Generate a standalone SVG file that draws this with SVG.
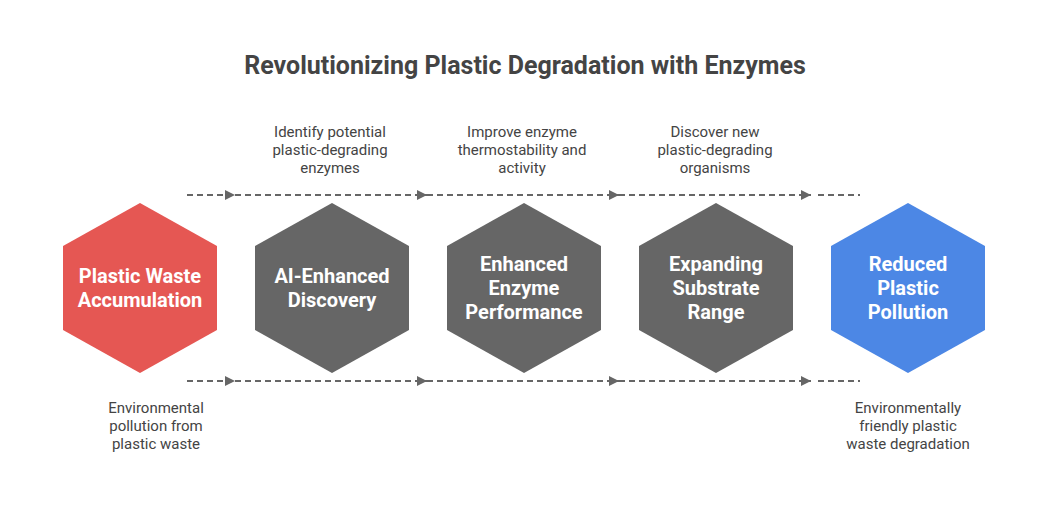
<svg xmlns="http://www.w3.org/2000/svg" width="1048" height="516" viewBox="0 0 1048 516">
<style>
.title{font-family:Roboto,"Liberation Sans",sans-serif;font-weight:bold;font-size:25px;fill:#444444;text-anchor:middle}
.desc{font-family:Roboto,"Liberation Sans",sans-serif;font-size:15px;fill:#444444;text-anchor:middle}
.lbl{font-family:Roboto,"Liberation Sans",sans-serif;font-weight:bold;font-size:20px;fill:#ffffff;text-anchor:middle}
.conn{fill:none;stroke:#666666;stroke-width:2;stroke-dasharray:6,4}
</style>
<defs>
<marker id="arr" viewBox="0 0 10 10" refX="10" refY="5" markerWidth="5" markerHeight="5" orient="auto" markerUnits="strokeWidth">
<path d="M0,0 L10,5 L0,10 Z" fill="#666666"/>
</marker>
<polygon id="hex" points="0,-85 77,-42 77,42 0,85 -77,42 -77,-42"/>
</defs>
<rect width="1048" height="516" fill="#ffffff"/>
<text class="title" x="525" y="74">Revolutionizing Plastic Degradation with Enzymes</text>
<g id="connectors">
<path class="conn" d="M187,195 H235" marker-end="url(#arr)"/>
<path class="conn" d="M235,195 H427" marker-end="url(#arr)"/>
<path class="conn" d="M427,195 H619" marker-end="url(#arr)"/>
<path class="conn" d="M619,195 H811" marker-end="url(#arr)"/>
<path class="conn" d="M818,195 H860"/>
<path class="conn" d="M187,381 H235" marker-end="url(#arr)"/>
<path class="conn" d="M235,381 H427" marker-end="url(#arr)"/>
<path class="conn" d="M427,381 H619" marker-end="url(#arr)"/>
<path class="conn" d="M619,381 H811" marker-end="url(#arr)"/>
<path class="conn" d="M818,381 H860"/>
</g>
<g id="node1">
<use href="#hex" x="140" y="288" fill="#E55753"/>
<text class="lbl" x="140" y="283">Plastic Waste</text>
<text class="lbl" x="140" y="307">Accumulation</text>
<text class="desc" x="156" y="413">Environmental</text>
<text class="desc" x="156" y="431">pollution from</text>
<text class="desc" x="156" y="449">plastic waste</text>
</g>
<g id="node2">
<use href="#hex" x="332" y="288" fill="#666666"/>
<text class="lbl" x="332" y="283">AI-Enhanced</text>
<text class="lbl" x="332" y="307">Discovery</text>
<text class="desc" x="330" y="137">Identify potential</text>
<text class="desc" x="330" y="155">plastic-degrading</text>
<text class="desc" x="330" y="173">enzymes</text>
</g>
<g id="node3">
<use href="#hex" x="524" y="288" fill="#666666"/>
<text class="lbl" x="524" y="271">Enhanced</text>
<text class="lbl" x="524" y="295">Enzyme</text>
<text class="lbl" x="524" y="319">Performance</text>
<text class="desc" x="522" y="137">Improve enzyme</text>
<text class="desc" x="522" y="155">thermostability and</text>
<text class="desc" x="522" y="173">activity</text>
</g>
<g id="node4">
<use href="#hex" x="716" y="288" fill="#666666"/>
<text class="lbl" x="716" y="271">Expanding</text>
<text class="lbl" x="716" y="295">Substrate</text>
<text class="lbl" x="716" y="319">Range</text>
<text class="desc" x="715" y="137">Discover new</text>
<text class="desc" x="715" y="155">plastic-degrading</text>
<text class="desc" x="715" y="173">organisms</text>
</g>
<g id="node5">
<use href="#hex" x="908" y="288" fill="#4C87E5"/>
<text class="lbl" x="908" y="271">Reduced</text>
<text class="lbl" x="908" y="295">Plastic</text>
<text class="lbl" x="908" y="319">Pollution</text>
<text class="desc" x="908" y="413">Environmentally</text>
<text class="desc" x="908" y="431">friendly plastic</text>
<text class="desc" x="908" y="449">waste degradation</text>
</g>
</svg>
